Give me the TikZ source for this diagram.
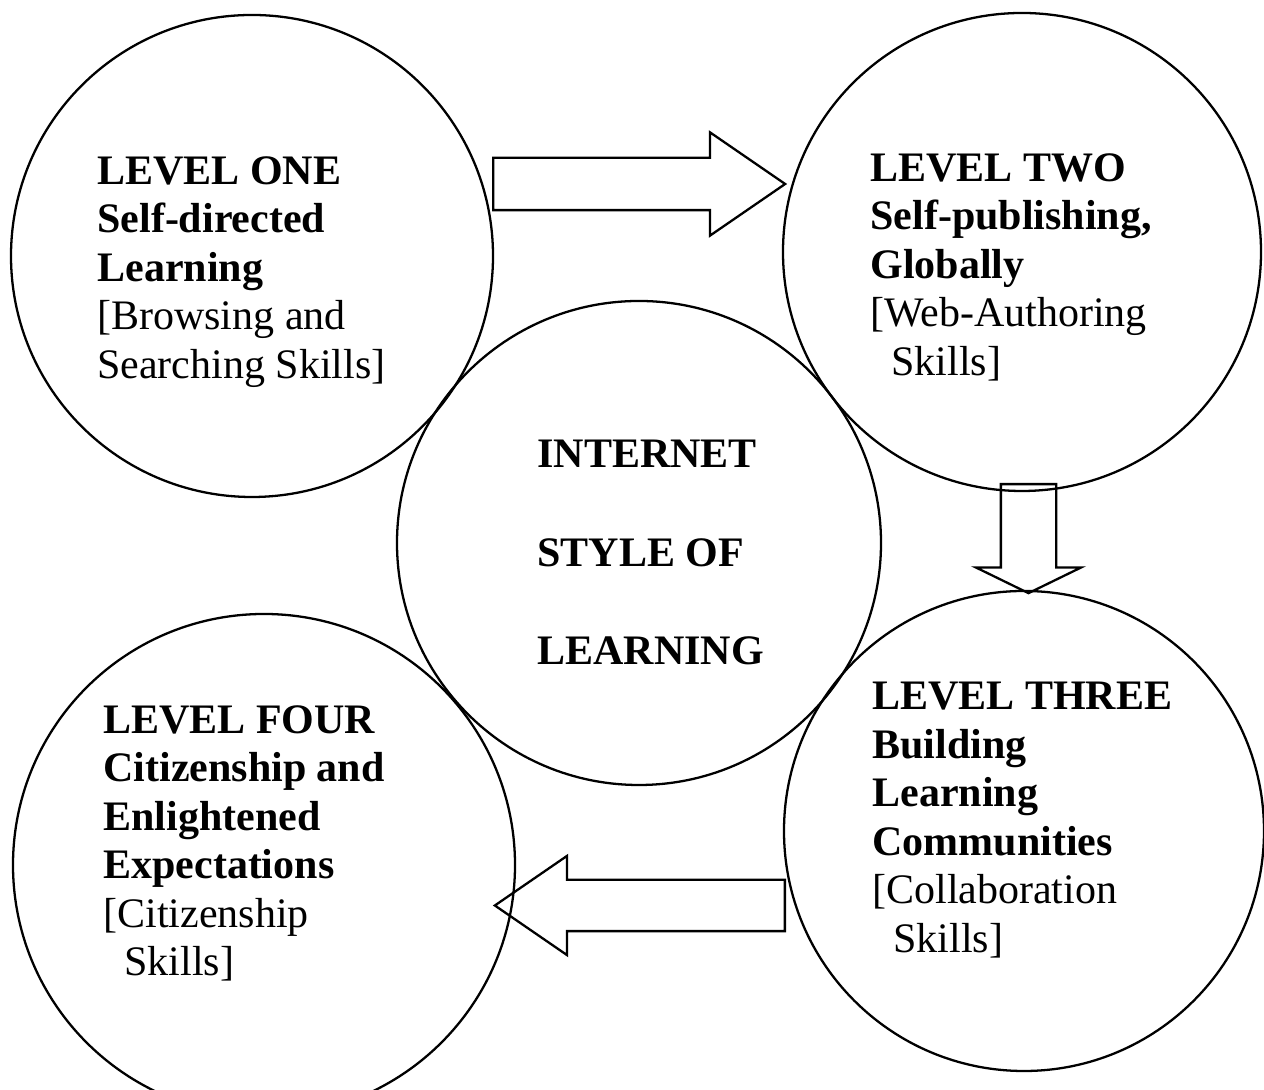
\documentclass[tikz,border=0pt]{standalone}
\usepackage{fontspec}
\setmainfont{Liberation Serif}
\usetikzlibrary{shapes.arrows}

\begin{document}
\begin{tikzpicture}[x=0.2mm, y=0.2mm]
			\tikzset{cercle/.style={circle, draw=black, line width=1.3pt, inner sep=0pt},
			texte/.style={anchor=north west, align=left, inner sep=0pt, font=\fontsize{23.9}{27.6}\selectfont},
			fleche/.style={single arrow, draw=black, line width=1.3pt, inner xsep=0pt, single arrow head indent=0pt, anchor=tail}};

			\useasboundingbox (0,0) rectangle (1264,1090);

			\foreach \name/\x/\y/\d in {one/252/834/96.4, two/1022/838/95.6, centre/639/547/96.8, three/1024/259/96, four/264/225/100.4}{
				\node[cercle, minimum size=\d mm] (\name) at (\x, \y) {};
			}

			\node[texte] (t-one) at (97, 934) {\textbf{LEVEL ONE}\\ \textbf{Self-directed}\\ \textbf{Learning}\\ {[}Browsing and\\ Searching Skills]};
			\node[texte] (t-two) at (870, 937) {\textbf{LEVEL TWO}\\ \textbf{Self-publishing,}\\ \textbf{Globally}\\ {[}Web-Authoring\\ \hspace*{0.5em}Skills]};
			\node[texte, font=\fontsize{23.9}{56}\selectfont\bfseries] (t-centre) at (537, 650) {INTERNET\\ STYLE OF\\ LEARNING};
			\node[texte] (t-three) at (872, 408) {\textbf{LEVEL THREE}\\ \textbf{Building}\\ \textbf{Learning}\\ \textbf{Communities}\\ {[}Collaboration\\ \hspace*{0.5em}Skills]};
			\node[texte] (t-four) at (103, 385) {\textbf{LEVEL FOUR}\\ \textbf{Citizenship and}\\ \textbf{Enlightened}\\ \textbf{Expectations}\\ {[}Citizenship\\ \hspace*{0.5em}Skills]};

			\node[fleche, inner ysep=5mm, minimum height=58.4mm, single arrow head extend=5.1mm, single arrow tip angle=69] (f-one-two) at (492, 906) {};
			\node[fleche, rotate=-90, inner ysep=5.3mm, minimum height=21.8mm, single arrow head extend=5mm, single arrow tip angle=128] (f-two-three) at (1028.5, 607) {};
			\node[fleche, rotate=180, inner ysep=4.9mm, minimum height=58mm, single arrow head extend=4.8mm, single arrow tip angle=69] (f-three-four) at (786, 184.5) {};

		\end{tikzpicture}
\end{document}
